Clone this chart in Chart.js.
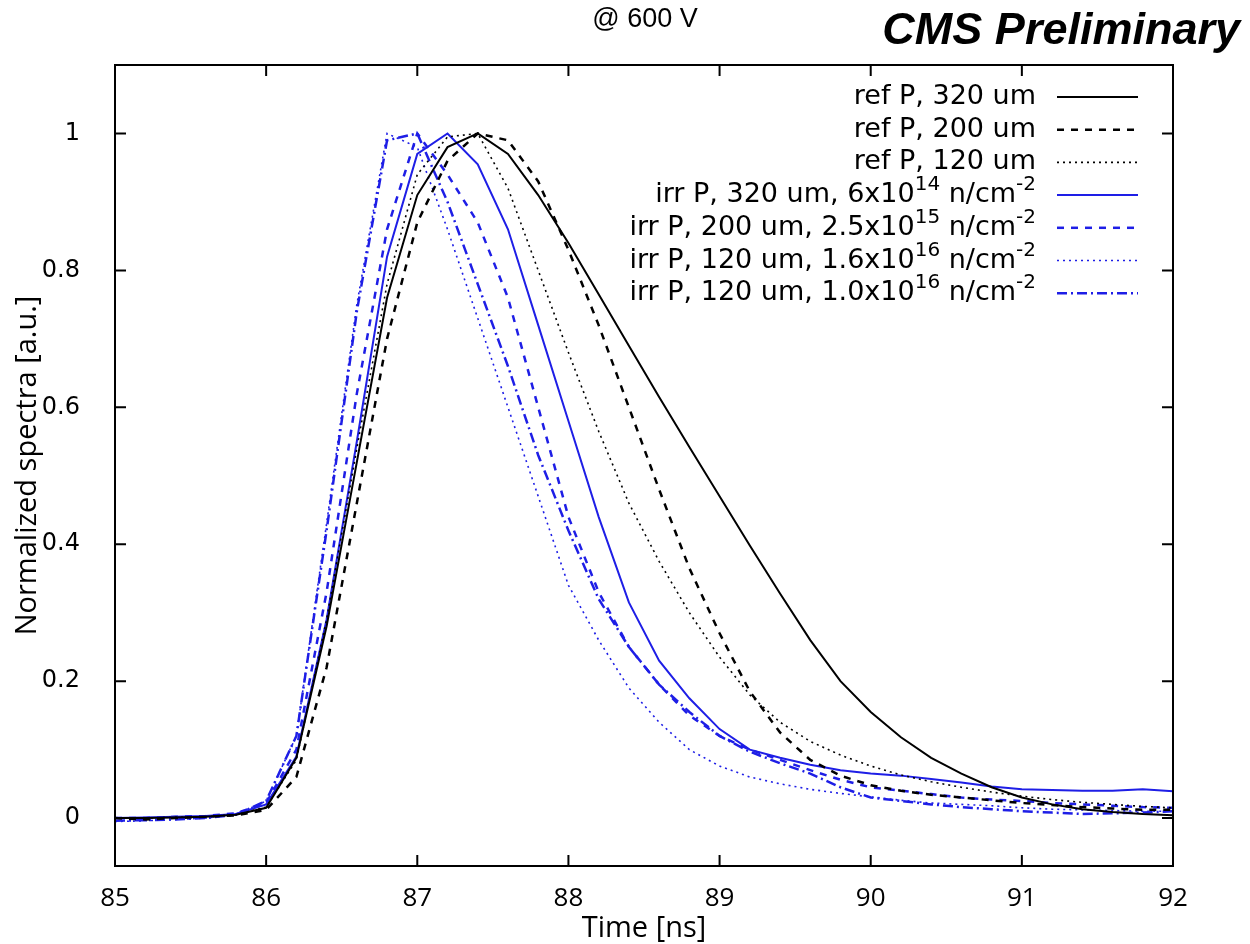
<!DOCTYPE html>
<html>
<head>
<meta charset="utf-8">
<script src="https://cdn.jsdelivr.net/npm/chart.js@4.4.0/dist/chart.umd.min.js"></script>
<style>
  html, body { margin: 0; padding: 0; background: #fff; }
</style>
</head>
<body>
<canvas id="c" width="1250" height="944"></canvas>
<script>
// time axis, 0.2 ns steps
const times = [85.0, 85.2, 85.4, 85.6, 85.8, 86.0, 86.2, 86.4, 86.6, 86.8,
  87.0, 87.2, 87.4, 87.6, 87.8, 88.0, 88.2, 88.4, 88.6, 88.8,
  89.0, 89.2, 89.4, 89.6, 89.8, 90.0, 90.2, 90.4, 90.6, 90.8,
  91.0, 91.2, 91.4, 91.6, 91.8, 92.0];

const refP320 = [0.000, 0.000, 0.001, 0.002, 0.005, 0.015, 0.088, 0.28, 0.52, 0.76,
  0.91, 0.98, 1.0, 0.97, 0.91, 0.84, 0.765, 0.69, 0.615, 0.542,
  0.47, 0.398, 0.328, 0.26, 0.20, 0.155, 0.118, 0.088, 0.065, 0.045,
  0.030, 0.020, 0.013, 0.009, 0.006, 0.004];
const refP200 = [0.000, -0.002, 0.000, 0.002, 0.004, 0.012, 0.06, 0.22, 0.46, 0.70,
  0.87, 0.96, 1.0, 0.99, 0.93, 0.83, 0.72, 0.60, 0.48, 0.365,
  0.27, 0.185, 0.125, 0.085, 0.062, 0.048, 0.040, 0.034, 0.030, 0.026,
  0.022, 0.019, 0.016, 0.014, 0.012, 0.012];
const refP120 = [0.000, 0.000, 0.001, 0.002, 0.005, 0.016, 0.085, 0.29, 0.54, 0.78,
  0.94, 0.995, 1.0, 0.92, 0.80, 0.68, 0.565, 0.46, 0.375, 0.30,
  0.235, 0.18, 0.14, 0.112, 0.092, 0.076, 0.063, 0.053, 0.045, 0.038,
  0.032, 0.027, 0.023, 0.020, 0.017, 0.015];
const irrP320 = [0.000, 0.001, 0.002, 0.003, 0.006, 0.020, 0.09, 0.29, 0.55, 0.82,
  0.97, 1.0, 0.955, 0.86, 0.72, 0.58, 0.44, 0.315, 0.23, 0.175,
  0.13, 0.10, 0.088, 0.078, 0.070, 0.065, 0.062, 0.057, 0.052, 0.046,
  0.042, 0.041, 0.040, 0.040, 0.042, 0.039];
const irrP200 = [0.000, 0.000, 0.002, 0.003, 0.007, 0.022, 0.10, 0.33, 0.62, 0.86,
  1.0, 0.94, 0.87, 0.76, 0.60, 0.44, 0.33, 0.25, 0.195, 0.15,
  0.12, 0.10, 0.085, 0.070, 0.056, 0.045, 0.040, 0.035, 0.030, 0.027,
  0.025, 0.022, 0.020, 0.018, 0.016, 0.015];
const irrP120hi = [-0.005, -0.004, -0.002, 0.000, 0.005, 0.025, 0.12, 0.43, 0.75, 1.0,
  0.98, 0.86, 0.73, 0.60, 0.47, 0.34, 0.26, 0.19, 0.14, 0.10,
  0.076, 0.060, 0.050, 0.042, 0.036, 0.031, 0.026, 0.022, 0.020, 0.018,
  0.015, 0.013, 0.012, 0.011, 0.010, 0.010];
const irrP120lo = [-0.004, -0.003, -0.002, 0.000, 0.005, 0.025, 0.12, 0.42, 0.74, 0.99,
  1.0, 0.90, 0.78, 0.66, 0.53, 0.42, 0.32, 0.25, 0.195, 0.155,
  0.12, 0.097, 0.080, 0.065, 0.045, 0.030, 0.025, 0.020, 0.016, 0.013,
  0.010, 0.008, 0.006, 0.007, 0.008, 0.010];

const xTicks = [85, 86, 87, 88, 89, 90, 91, 92];
const yTicks = [0, 0.2, 0.4, 0.6, 0.8, 1];

// legend texts: [normal, superscript, normal, superscript, ...]
const legendTexts = [
  ['ref P, 320 um'],
  ['ref P, 200 um'],
  ['ref P, 120 um'],
  ['irr P, 320 um, 6x10', '14', ' n/cm', '-2'],
  ['irr P, 200 um, 2.5x10', '15', ' n/cm', '-2'],
  ['irr P, 120 um, 1.6x10', '16', ' n/cm', '-2'],
  ['irr P, 120 um, 1.0x10', '16', ' n/cm', '-2']
];

const BLUE = '#1e1ee6';
const pts = vals => times.map((t, i) => ({ x: t, y: vals[i] }));

const datasets = [
  { data: pts(refP320), borderColor: '#000', borderWidth: 2, borderDash: [] },
  { data: pts(refP200), borderColor: '#000', borderWidth: 2.5, borderDash: [7, 7] },
  { data: pts(refP120), borderColor: '#000', borderWidth: 1.6, borderDash: [2, 4] },
  { data: pts(irrP320), borderColor: BLUE, borderWidth: 2, borderDash: [] },
  { data: pts(irrP200), borderColor: BLUE, borderWidth: 2.5, borderDash: [7, 7] },
  { data: pts(irrP120hi), borderColor: BLUE, borderWidth: 1.6, borderDash: [2, 4] },
  { data: pts(irrP120lo), borderColor: BLUE, borderWidth: 2.5, borderDash: [10, 4, 2, 4] }
];
datasets.forEach((d, i) => { d.label = legendTexts[i].join(''); });

const gnuplotFrame = {
  id: 'gnuplotFrame',
  afterDatasetsDraw(chart) {
    const { ctx, chartArea: a, scales: { x, y } } = chart;
    ctx.save();
    ctx.strokeStyle = '#000';
    ctx.lineWidth = 2;
    ctx.setLineDash([]);
    ctx.strokeRect(a.left, a.top, a.right - a.left, a.bottom - a.top);
    ctx.beginPath();
    xTicks.forEach(v => {
      const px = x.getPixelForValue(v);
      ctx.moveTo(px, a.bottom); ctx.lineTo(px, a.bottom - 11);
      ctx.moveTo(px, a.top); ctx.lineTo(px, a.top + 11);
    });
    yTicks.forEach(v => {
      const py = y.getPixelForValue(v);
      ctx.moveTo(a.left, py); ctx.lineTo(a.left + 11, py);
      ctx.moveTo(a.right, py); ctx.lineTo(a.right - 11, py);
    });
    ctx.stroke();

    // key, right-justified text with sample lines
    const textRight = 1036, sampleL = 1057, sampleR = 1138;
    const mainFont = '27px "DejaVu Sans"', supFont = '20px "DejaVu Sans"';
    ctx.textBaseline = 'middle';
    ctx.fillStyle = '#000';
    chart.data.datasets.forEach((ds, i) => {
      const rowY = 97 + i * 32.7;
      const parts = legendTexts[i];
      let w = 0;
      parts.forEach((p, k) => { ctx.font = k % 2 ? supFont : mainFont; w += ctx.measureText(p).width; });
      let cx = textRight - w;
      parts.forEach((p, k) => {
        ctx.font = k % 2 ? supFont : mainFont;
        ctx.fillText(p, cx, k % 2 ? rowY - 10 : rowY);
        cx += ctx.measureText(p).width;
      });
      ctx.strokeStyle = ds.borderColor;
      ctx.lineWidth = ds.borderWidth;
      ctx.setLineDash(ds.borderDash);
      ctx.beginPath();
      ctx.moveTo(sampleL, rowY); ctx.lineTo(sampleR, rowY);
      ctx.stroke();
    });
    ctx.setLineDash([]);

    ctx.textAlign = 'center';
    ctx.font = '27px "Liberation Sans"';
    ctx.fillText('@ 600 V', 645, 20);
    ctx.textAlign = 'right';
    ctx.font = 'italic bold 45px "Liberation Sans"';
    ctx.fillText('CMS Preliminary', 1240, 32);
    ctx.restore();
  }
};

new Chart(document.getElementById('c'), {
  type: 'line',
  data: { datasets },
  options: {
    responsive: false,
    animation: false,
    layout: { padding: { top: 65, right: 77, left: 0, bottom: 0 } },
    plugins: { legend: { display: false }, tooltip: { enabled: false } },
    elements: { point: { radius: 0 }, line: { tension: 0, fill: false } },
    scales: {
      x: {
        type: 'linear',
        min: 85,
        max: 92,
        afterBuildTicks: s => { s.ticks = xTicks.map(v => ({ value: v })); },
        afterFit: s => { s.height = 78; },
        grid: { display: false, drawTicks: false },
        border: { display: false },
        ticks: { color: '#000', font: { family: 'Open Sans', size: 26 }, padding: 17, maxRotation: 0 },
        title: { display: true, text: 'Time [ns]', color: '#000', font: { family: 'Open Sans', size: 29 }, padding: { top: 0, bottom: -2 } }
      },
      y: {
        type: 'linear',
        min: -0.07,
        max: 1.1,
        afterBuildTicks: s => { s.ticks = yTicks.map(v => ({ value: v })); },
        afterFit: s => { s.width = 115; },
        grid: { display: false, drawTicks: false },
        border: { display: false },
        ticks: { color: '#000', font: { family: 'DejaVu Sans', size: 24 }, padding: 35, callback: v => String(v) },
        title: { display: true, text: 'Normalized spectra [a.u.]', color: '#000', font: { family: 'Open Sans', size: 29 }, padding: { top: 10, bottom: 0 } }
      }
    }
  },
  plugins: [gnuplotFrame]
});
</script>
</body>
</html>
